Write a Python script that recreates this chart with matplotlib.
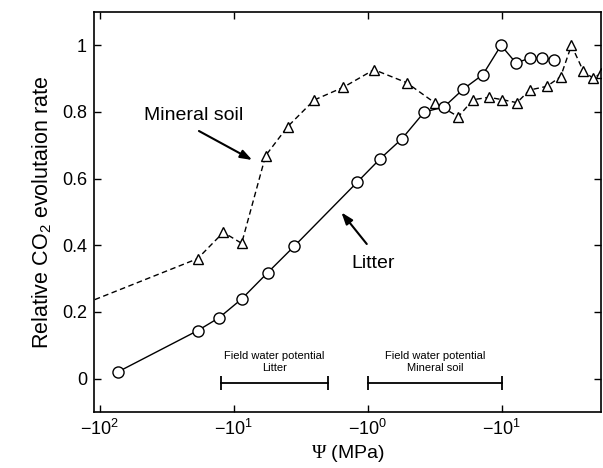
import matplotlib
matplotlib.use("Agg")
import matplotlib.pyplot as plt
from matplotlib.ticker import FixedLocator, FixedFormatter, NullLocator
import numpy as np

plt.rcParams['font.family'] = ['Liberation Sans', 'DejaVu Sans']
plt.rcParams['mathtext.fontset'] = 'custom'
plt.rcParams['mathtext.rm'] = 'Liberation Sans'
plt.rcParams['mathtext.it'] = 'Liberation Sans:italic'
plt.rcParams['mathtext.tt'] = 'Liberation Serif'
plt.rcParams['mathtext.default'] = 'regular'

# ---- data (|Psi| in MPa, axis shows negative potentials) ----
litter_psi = [73.8, 18.7, 12.9, 8.77, 5.61, 3.56, 1.20, 0.81, 0.557, 0.380,
              0.271, 0.194, 0.139, 0.1016, 0.0786, 0.0618, 0.050, 0.041]
litter_rate = [0.02, 0.144, 0.183, 0.239, 0.318, 0.397, 0.590, 0.660, 0.720, 0.800,
               0.815, 0.869, 0.912, 1.0, 0.947, 0.962, 0.961, 0.957]

mineral_psi = [300.0, 18.7, 12.0, 8.77, 5.81, 3.98, 2.52, 1.53, 0.902, 0.515,
               0.316, 0.212, 0.164, 0.125, 0.0995, 0.0773, 0.0622, 0.0462,
               0.0365, 0.0303, 0.0248, 0.0209, 0.0182]
mineral_rate = [0.167, 0.36, 0.439, 0.406, 0.669, 0.756, 0.836, 0.874, 0.927, 0.888,
                0.827, 0.786, 0.837, 0.844, 0.837, 0.828, 0.866, 0.877,
                0.906, 1.0, 0.924, 0.901, 0.916]

field_labels = ["Field water potential\nLitter", "Field water potential\nMineral soil"]
field_ranges = [(12.5, 2.0), (1.0, 0.1)]
field_level = -0.012

x_ticks = [100, 10, 1, 0.1]
x_ticklabels = [r"$-10^{2}$", r"$-10^{1}$", r"$-10^{0}$", r"$-10^{1}$"]
y_ticks = [0, 0.2, 0.4, 0.6, 0.8, 1.0]
y_ticklabels = ["0", "0.2", "0.4", "0.6", "0.8", "1"]

fig = plt.figure(figsize=(6.03, 4.68), dpi=100)
ax = fig.add_axes([94/603, 1-412/468, (601-94)/603, (412-12)/468])

ax.set_xscale('log')
ax.set_xlim(110.9, 0.01824)
ax.set_ylim(-0.1, 1.1)

ax.plot(mineral_psi, mineral_rate, color='black', lw=1.0, dashes=(4, 2.5),
        marker='^', ms=7.5, mfc='white', mec='black', mew=1.0)
ax.plot(litter_psi, litter_rate, color='black', lw=1.0, ls='-',
        marker='o', ms=8, mfc='white', mec='black', mew=1.0)

for (a, b), lab in zip(field_ranges, field_labels):
    ax.plot([a, b], [field_level, field_level], color='black', lw=1.3,
            marker='|', ms=10, mew=1.3)
    ax.annotate(lab, xy=(np.sqrt(a * b), field_level), xytext=(0, 7),
                textcoords='offset points', ha='center', va='bottom',
                fontsize=8, linespacing=1.3)

# annotations
ax.text(0.196, 0.74, "Mineral soil", transform=ax.transAxes, fontsize=14,
        ha='center', va='center')
ax.annotate('', xy=(0.312, 0.63), xytext=(0.207, 0.7025),
            xycoords='axes fraction', textcoords='axes fraction',
            arrowprops=dict(arrowstyle='-|>,head_length=0.7,head_width=0.25',
                            lw=1.5, color='black', shrinkA=0, shrinkB=0))
ax.text(0.550, 0.3725, "Litter", transform=ax.transAxes, fontsize=14,
        ha='center', va='center')
ax.annotate('', xy=(0.488, 0.499), xytext=(0.538, 0.42),
            xycoords='axes fraction', textcoords='axes fraction',
            arrowprops=dict(arrowstyle='-|>,head_length=0.7,head_width=0.25',
                            lw=1.5, color='black', shrinkA=0, shrinkB=0))

ax.xaxis.set_major_locator(FixedLocator(x_ticks))
ax.xaxis.set_major_formatter(FixedFormatter(x_ticklabels))
ax.xaxis.set_minor_locator(NullLocator())
ax.yaxis.set_major_locator(FixedLocator(y_ticks))
ax.yaxis.set_major_formatter(FixedFormatter(y_ticklabels))

ax.tick_params(axis='both', which='major', direction='in', length=5, width=1.0,
               top=True, right=True, labelsize=13, pad=5)
for s in ax.spines.values():
    s.set_linewidth(1.2)

ax.set_xlabel(r"$\mathtt{\Psi}$ (MPa)", fontsize=14, labelpad=3)
ax.set_ylabel(r"Relative CO$_2$ evolutaion rate", fontsize=15.5, labelpad=6)

fig.savefig("out.png", dpi=100)
